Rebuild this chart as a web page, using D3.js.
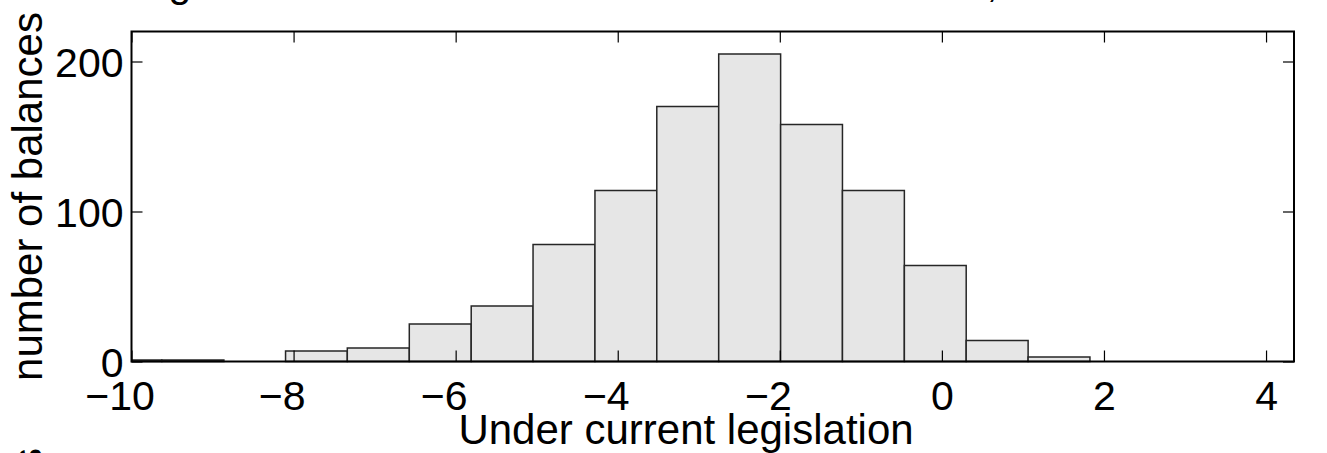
<!DOCTYPE html>
<html>
<head>
<meta charset="utf-8">
<script src="https://cdn.jsdelivr.net/npm/d3@7"></script>
<style>
  html, body { margin: 0; padding: 0; background: #fff; }
  svg { display: block; font-family: "Liberation Sans", Arial, Helvetica, sans-serif; }
</style>
</head>
<body>
<svg id="chart" width="1327" height="453"></svg>
<script>
// ---- data ----
const binStarts = [-10.39, -9.626, -8.860, -8.099, -7.337, -6.572, -5.808, -5.045, -4.281, -3.518, -2.754, -1.990, -1.227, -0.463, 0.300, 1.064];
const binEnds   = [-9.626, -8.860, -8.099, -7.337, -6.572, -5.808, -5.045, -4.281, -3.518, -2.754, -1.990, -1.227, -0.463, 0.300, 1.064, 1.827];
const counts    = [1, 1, 0, 7, 9, 25, 37, 78, 114, 170, 205, 158, 114, 64, 14, 3];
const xTicks = [-10, -8, -6, -4, -2, 0, 2, 4];
const yTicks = [0, 100, 200];
const xDomain = [-10, 4.345];
const yDomain = [0, 220];
const titleText = "Long-run distribution of simulated fiscal balances, 2012–2085";
const xLabel = "Under current legislation";
const yLabel = "number of balances";

// ---- layout ----
const FS = 41;
const LFS = 42;
const pL = 131.5, pR = 1294, pT = 31.5, pB = 361.5;
const svg = d3.select("#chart");
svg.append("rect").attr("width", 1327).attr("height", 453).attr("fill", "#fff");

const x = d3.scaleLinear().domain(xDomain).range([pL, pR]);
const y = d3.scaleLinear().domain(yDomain).range([pB, pT]);

svg.append("defs").append("clipPath").attr("id", "plotclip")
  .append("rect").attr("x", pL).attr("y", pT - 2).attr("width", pR - pL).attr("height", pB - pT + 4);

// bars
const bars = counts.map((c, i) => ({ x0: binStarts[i], x1: binEnds[i], c }));
svg.append("g").attr("clip-path", "url(#plotclip)")
  .selectAll("rect").data(bars).join("rect")
  .attr("x", d => x(d.x0))
  .attr("y", d => y(d.c))
  .attr("width", d => x(d.x1) - x(d.x0))
  .attr("height", d => y(0) - y(d.c))
  .attr("fill", "#e6e6e6")
  .attr("stroke", "#262626")
  .attr("stroke-width", 1.5);

// axes (ticks inward on all four sides)
const TL = 11;
const gx = svg.append("g").attr("transform", `translate(0,${pB})`)
  .call(d3.axisBottom(x).tickValues(xTicks).tickSizeInner(-TL).tickSizeOuter(0));
const gxt = svg.append("g").attr("transform", `translate(0,${pT})`)
  .call(d3.axisTop(x).tickValues(xTicks).tickSizeInner(-TL).tickSizeOuter(0).tickFormat(""));
const gy = svg.append("g").attr("transform", `translate(${pL},0)`)
  .call(d3.axisLeft(y).tickValues(yTicks).tickSizeInner(-TL).tickSizeOuter(0));
const gyr = svg.append("g").attr("transform", `translate(${pR},0)`)
  .call(d3.axisRight(y).tickValues(yTicks).tickSizeInner(-TL).tickSizeOuter(0).tickFormat(""));

[gx, gxt, gy, gyr].forEach(g => {
  g.select(".domain").remove();
  g.selectAll(".tick line").attr("stroke", "#000").attr("stroke-width", 1.2);
});

// x tick labels: digits centered on tick, minus hangs to the left (MATLAB style)
gx.selectAll(".tick text")
  .attr("font-size", FS)
  .attr("fill", "#000")
  .attr("font-family", "Liberation Sans, Arial, sans-serif")
  .attr("text-anchor", "end")
  .attr("dy", null)
  .attr("y", 410 - pB)
  .attr("x", d => String(Math.abs(d)).length * 0.556 * FS / 2);

gy.selectAll(".tick text")
  .attr("font-size", FS)
  .attr("fill", "#000")
  .attr("font-family", "Liberation Sans, Arial, sans-serif")
  .attr("text-anchor", "end")
  .attr("dy", null)
  .attr("y", 14.5)
  .attr("x", -8);

// box
svg.append("rect")
  .attr("x", pL).attr("y", pT)
  .attr("width", pR - pL).attr("height", pB - pT)
  .attr("fill", "none").attr("stroke", "#000").attr("stroke-width", 2);

// labels
svg.append("text")
  .attr("x", 686).attr("y", 444)
  .attr("text-anchor", "middle")
  .attr("font-size", LFS)
  .attr("fill", "#000")
  .text(xLabel);

const yl = svg.append("text")
  .attr("transform", `translate(42,${(pT + pB) / 2}) rotate(-90)`)
  .attr("text-anchor", "middle")
  .attr("font-size", LFS)
  .attr("fill", "#000")
  .text(yLabel);

// the next panel's y label, mostly below the visible area
const len = yl.node().getComputedTextLength();
svg.append("text")
  .attr("transform", `translate(42,${448 + len / 2}) rotate(-90)`)
  .attr("text-anchor", "middle")
  .attr("font-size", LFS)
  .attr("fill", "#000")
  .text(yLabel);

// title, mostly above the visible area
svg.append("text")
  .attr("x", 100).attr("y", -3.5)
  .attr("text-anchor", "start")
  .attr("font-size", FS)
  .attr("fill", "#000")
  .text(titleText);
</script>
</body>
</html>
